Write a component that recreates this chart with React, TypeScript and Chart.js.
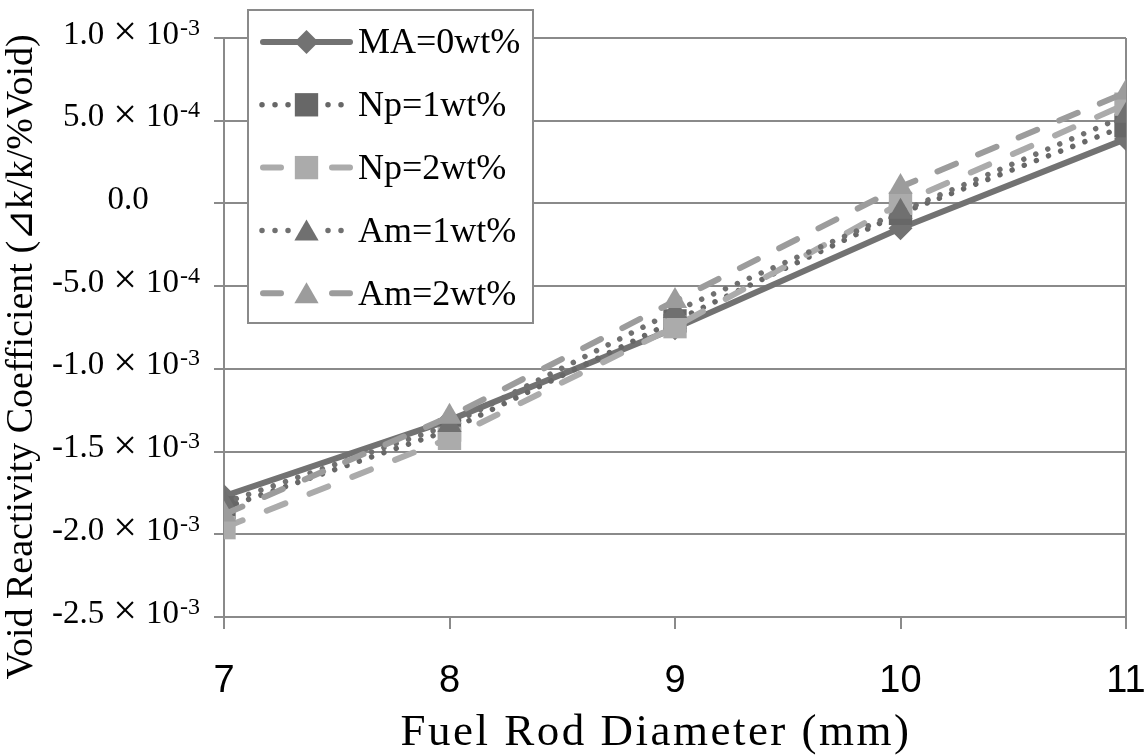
import React, { useEffect, useRef } from "react";
import { Chart, registerables } from "chart.js";

Chart.register(...registerables);

const xValues = [7, 8, 9, 10, 11];
const seriesNames = ["MA=0wt%", "Np=1wt%", "Np=2wt%", "Am=1wt%", "Am=2wt%"];
const ma0 = [-1.77e-3, -1.31e-3, -0.755e-3, -0.15e-3, 0.39e-3];
const np1 = [-1.84e-3, -1.37e-3, -0.71e-3, -0.06e-3, 0.47e-3];
const np2 = [-1.96e-3, -1.42e-3, -0.745e-3, 0.0, 0.6e-3];
const am1 = [-1.81e-3, -1.34e-3, -0.65e-3, -0.05e-3, 0.53e-3];
const am2 = [-1.88e-3, -1.29e-3, -0.59e-3, 0.1e-3, 0.67e-3];

const yTickValues = [1e-3, 5e-4, 0, -5e-4, -1e-3, -1.5e-3, -2e-3, -2.5e-3];
const yTickMantissas = ["1.0", "5.0", "0.0", "-5.0", "-1.0", "-1.5", "-2.0", "-2.5"];
const yTickExponents = ["-3", "-4", "", "-4", "-3", "-3", "-3", "-3"];

const xTitle = "Fuel Rod Diameter (mm)";
const yTitle = "Void Reactivity Coefficient (\u22BFk/k/%Void)";

const GRID = "#8a8a8a";
const SERIF = "'Liberation Serif', 'Times New Roman', serif";
const SANS = "'Liberation Sans', Arial, sans-serif";

function drawMarker(ctx: CanvasRenderingContext2D, style: string, x: number, y: number, r: number, color: string) {
  ctx.save();
  ctx.fillStyle = color;
  ctx.beginPath();
  if (style === "rectRot") {
    ctx.moveTo(x, y - r);
    ctx.lineTo(x + r, y);
    ctx.lineTo(x, y + r);
    ctx.lineTo(x - r, y);
  } else if (style === "rect") {
    const s = r * Math.SQRT1_2;
    ctx.rect(x - s, y - s, 2 * s, 2 * s);
  } else {
    for (let i = 0; i < 3; i++) {
      const a = (i * 2 * Math.PI) / 3;
      const px = x + Math.sin(a) * r;
      const py = y - Math.cos(a) * r;
      if (i === 0) ctx.moveTo(px, py);
      else ctx.lineTo(px, py);
    }
  }
  ctx.closePath();
  ctx.fill();
  ctx.restore();
}

const decorPlugin = {
  id: "decor",
  afterDraw(chart: any) {
    const ctx: CanvasRenderingContext2D = chart.ctx;
    const yScale = chart.scales.y;
    ctx.save();
    ctx.fillStyle = "#000";
    // y tick labels
    yTickValues.forEach((v, i) => {
      const py = yScale.getPixelForValue(v);
      const mant = yTickMantissas[i];
      const exp = yTickExponents[i];
      ctx.textBaseline = "alphabetic";
      ctx.textAlign = "left";
      if (!exp) {
        ctx.font = `33px ${SERIF}`;
        const w = ctx.measureText(mant).width;
        ctx.fillText(mant, 128 - w / 2, py + 5.5);
        return;
      }
      ctx.font = `24px ${SERIF}`;
      const supW = ctx.measureText(exp).width;
      ctx.font = `33px ${SERIF}`;
      const tenW = ctx.measureText("10").width;
      const mantW = ctx.measureText(mant).width;
      ctx.font = `42px ${SERIF}`;
      const timesW = ctx.measureText("\u00D7").width;
      const supX = 200 - supW;
      const tenX = supX - 1 - tenW;
      const timesX = tenX - 9 - timesW;
      const mantX = timesX - 9 - mantW;
      ctx.font = `33px ${SERIF}`;
      ctx.fillText(mant, mantX, py + 5.5);
      ctx.fillText("10", tenX, py + 5.5);
      ctx.font = `42px ${SERIF}`;
      ctx.fillText("\u00D7", timesX, py + 7);
      ctx.font = `24px ${SERIF}`;
      ctx.fillText(exp, supX, py - 3.5);
    });

    // x title
    ctx.font = `45px ${SERIF}`;
    (ctx as any).letterSpacing = "2.5px";
    ctx.textAlign = "center";
    ctx.textBaseline = "alphabetic";
    ctx.fillText(xTitle, 656, 745);
    (ctx as any).letterSpacing = "0px";

    // y title
    ctx.save();
    ctx.translate(22, 357);
    ctx.rotate(-Math.PI / 2);
    ctx.font = `38px ${SERIF}`;
    ctx.textAlign = "center";
    ctx.textBaseline = "middle";
    ctx.fillText(yTitle, 0, 0);
    ctx.restore();

    // legend
    const lx = 248, ly = 10, lw = 285, lh = 313;
    ctx.fillStyle = "#fff";
    ctx.fillRect(lx, ly, lw, lh);
    ctx.strokeStyle = GRID;
    ctx.lineWidth = 2;
    ctx.strokeRect(lx, ly, lw, lh);
    chart.data.datasets.forEach((ds: any, i: number) => {
      const cy = 42 + i * 62.8;
      ctx.save();
      ctx.strokeStyle = ds.borderColor;
      ctx.lineWidth = ds.borderWidth;
      ctx.lineCap = ds.borderCapStyle;
      ctx.setLineDash(ds.borderDash || []);
      if (!ds.borderDash || ds.borderDash.length === 0) {
        ctx.beginPath();
        ctx.moveTo(263, cy);
        ctx.lineTo(350, cy);
        ctx.stroke();
      } else if (ds.borderDash[0] < 1) {
        ctx.beginPath();
        ctx.moveTo(262, cy);
        ctx.lineTo(289, cy);
        ctx.stroke();
        ctx.beginPath();
        ctx.moveTo(328, cy);
        ctx.lineTo(342, cy);
        ctx.stroke();
      } else {
        ctx.setLineDash([]);
        ctx.beginPath();
        ctx.moveTo(263, cy);
        ctx.lineTo(281, cy);
        ctx.stroke();
        ctx.beginPath();
        ctx.moveTo(332, cy);
        ctx.lineTo(350, cy);
        ctx.stroke();
      }
      ctx.restore();
      const r = ds.pointStyle === "rectRot" ? 12 : ds.pointStyle === "rect" ? 16.5 : 14;
      const my = ds.pointStyle === "triangle" ? cy + 3 : cy;
      drawMarker(ctx, ds.pointStyle, 306.5, my, r, ds.pointBackgroundColor);
      ctx.fillStyle = "#000";
      ctx.font = `36px ${SERIF}`;
      ctx.textAlign = "left";
      ctx.textBaseline = "middle";
      ctx.fillText(ds.label, 358, cy + 2);
    });
    ctx.restore();
  },
};

function makeDataset(label: string, values: number[], color: string, width: number, dash: number[], pointStyle: string, radius: number, order: number) {
  return {
    label,
    data: xValues.map((x, i) => ({ x, y: values[i] })),
    borderColor: color,
    backgroundColor: color,
    borderWidth: width,
    borderDash: dash,
    borderCapStyle: "round",
    borderJoinStyle: "round",
    pointStyle,
    pointRadius: radius,
    pointBackgroundColor: color,
    pointBorderColor: color,
    pointBorderWidth: 0,
    tension: 0,
    order,
  };
}

export default function App() {
  const canvasRef = useRef<HTMLCanvasElement | null>(null);

  useEffect(() => {
    const canvas = canvasRef.current;
    if (!canvas) return;
    const chart = new Chart(canvas, {
      type: "line",
      data: {
        datasets: [
          makeDataset(seriesNames[0], ma0, "#727272", 6, [], "rectRot", 12, 5),
          makeDataset(seriesNames[1], np1, "#676767", 5.5, [0.01, 13], "rect", 16.5, 4),
          makeDataset(seriesNames[2], np2, "#ababab", 6, [20, 26], "rect", 16.5, 3),
          makeDataset(seriesNames[3], am1, "#707070", 5.5, [0.01, 13], "triangle", 14, 2),
          makeDataset(seriesNames[4], am2, "#9c9c9c", 6, [20, 24], "triangle", 14, 1),
        ] as any,
      },
      options: {
        responsive: false,
        animation: false,
        devicePixelRatio: 1,
        events: [],
        layout: { padding: { top: 38, right: 19, left: 0, bottom: 0 } },
        plugins: { legend: { display: false }, tooltip: { enabled: false } },
        scales: {
          x: {
            type: "linear",
            min: 7,
            max: 11,
            ticks: {
              stepSize: 1,
              color: "#000",
              font: { family: SANS, size: 38 },
              padding: 30,
              maxRotation: 0,
            },
            grid: {
              color: (c: any) => (c.tick && c.tick.value === 11 ? GRID : "rgba(0,0,0,0)"),
              tickColor: GRID,
              lineWidth: 2,
              tickLength: 12,
              drawTicks: true,
            },
            border: { display: true, color: GRID, width: 2 },
            afterFit: (s: any) => {
              s.height = 138;
              s.paddingLeft = 0;
              s.paddingRight = 0;
            },
          },
          y: {
            type: "linear",
            min: -2.5e-3,
            max: 1e-3,
            ticks: { stepSize: 5e-4, display: false },
            grid: { color: GRID, lineWidth: 2, tickLength: 10, drawTicks: true },
            border: { display: true, color: GRID, width: 2 },
            afterFit: (s: any) => {
              s.width = 224;
              s.paddingTop = 0;
              s.paddingBottom = 0;
            },
          },
        },
      } as any,
      plugins: [decorPlugin],
    });
    return () => chart.destroy();
  }, []);

  return (
    <div
      style={{
        position: "fixed",
        left: 0,
        top: 0,
        width: 1145,
        height: 755,
        overflow: "hidden",
        background: "#fff",
      }}
    >
      <canvas ref={canvasRef} width={1145} height={755} style={{ display: "block" }} />
    </div>
  );
}
